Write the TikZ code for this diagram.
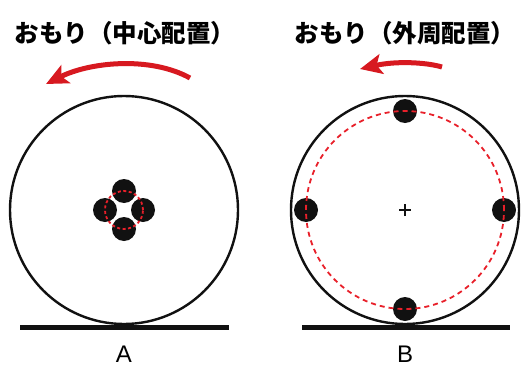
\documentclass[tikz,border=0pt]{standalone}
\usepackage{fontspec}
\setmainfont{Liberation Sans}
\newfontfamily\jpfont{Noto Sans CJK JP}
\usepackage{xcolor}
\usetikzlibrary{arrows.meta,positioning,calc}
\definecolor{spinred}{HTML}{D71920}
\definecolor{dashred}{HTML}{E8202A}
\definecolor{inkblack}{HTML}{111111}

\tikzset{
  weight/.style={circle,fill=inkblack,inner sep=0pt,minimum size=24pt},
  wheel/.style={draw=inkblack,line width=2.4pt},
  orbit/.style={draw=dashred,line width=1.8pt,dash pattern=on 5pt off 4pt},
  ground/.style={draw=inkblack,line width=5pt},
  spin/.style={draw=spinred,line width=5pt,-{Stealth[length=22pt,width=20pt,inset=5pt,fill=spinred]}},
  title/.style={font=\jpfont\bfseries\fontsize{24.5}{25}\selectfont,inner sep=0pt},
  tag/.style={font=\fontsize{24}{24}\selectfont,inner sep=0pt}
}

\begin{document}
\begin{tikzpicture}[x=1pt,y=1pt,line cap=butt,line join=round]
  \useasboundingbox (0,0) rectangle (522,368);
  % A: weights near the hub
  \coordinate (hubA) at (124,158);
  \node[weight] (wAn) at (124,177) {};
  \node[weight] (wAw) at (105,158) {};
  \node[weight] (wAe) at (143,158) {};
  \node[weight] (wAs) at (124,139) {};
  \draw[orbit,dash pattern=on 3pt off 2.5pt] (hubA) circle (19);
  \draw[wheel] (hubA) circle (114);
  \draw[ground] (20,41) -- (229,41);
  \node[tag] (labA) at (124,14) {A};
  \node[title] (headA) at (125,335) {おもり（中心配置）};
  \coordinate (fromA) at (190,290);
  \coordinate (toA) at (46,284);
  \draw[spin] (fromA) .. controls (150,312) and (90,306) .. (toA);
  % B: weights on the rim
  \coordinate (hubB) at (405,158);
  \foreach \name/\ang in {n/90,w/180,e/0,s/270}
    \node[weight] (wB\name) at ($(hubB)+(\ang:99)$) {};
  \draw[orbit] (hubB) circle (99);
  \draw[wheel] (hubB) circle (114);
  \draw[inkblack,line width=1.5pt] ($(hubB)+(-6,0)$) -- ($(hubB)+(6,0)$)
                                   ($(hubB)+(0,-6)$) -- ($(hubB)+(0,6)$);
  \draw[ground] (302,41) -- (510,41);
  \node[tag] (labB) at (405,14) {B};
  \node[title] (headB) at (405,335) {おもり（外周配置）};
  \coordinate (fromB) at (442,301);
  \coordinate (toB) at (360,299);
  \draw[spin] (fromB) .. controls (425,306) and (395,307) .. (toB);
\end{tikzpicture}
\end{document}
